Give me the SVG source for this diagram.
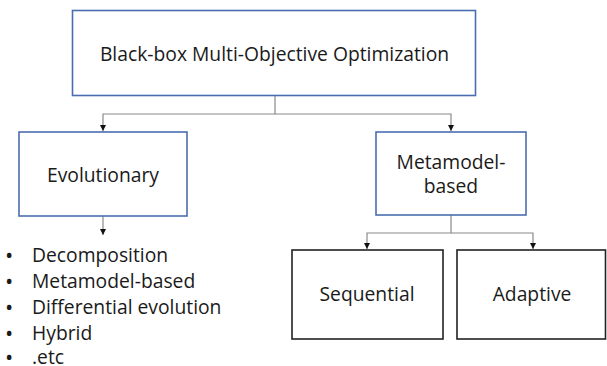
<svg xmlns="http://www.w3.org/2000/svg" width="607" height="366" viewBox="0 0 607 366">
  <style>
    .blue { fill: #ffffff; stroke: #4a6db0; stroke-width: 1.6; }
    .dark { fill: #ffffff; stroke: #222222; stroke-width: 1.6; }
    .lbl { font-family: "Open Sans", "Liberation Sans", Arial, sans-serif; font-size: 19.3px; fill: #1a1a1a; }
    .dot { font-size: 22px; }
    .mid { text-anchor: middle; }
    .conn { fill: none; stroke: #8a8a8a; stroke-width: 1.2; }
  </style>
  <defs>
    <marker id="arrow" viewBox="0 0 10 10" refX="10" refY="5" markerWidth="6" markerHeight="6" markerUnits="userSpaceOnUse" orient="auto">
      <path d="M0,0 L10,5 L0,10 z" fill="#111111"/>
    </marker>
  </defs>

  <rect width="607" height="366" fill="#ffffff"/>

  <g id="connectors">
    <path class="conn" d="M275,96 V114 H103 V131" marker-end="url(#arrow)"/>
    <path class="conn" d="M275,114 H451 V131" marker-end="url(#arrow)"/>
    <path class="conn" d="M103,216 V235" marker-end="url(#arrow)"/>
    <path class="conn" d="M451,215 V233 H367 V249" marker-end="url(#arrow)"/>
    <path class="conn" d="M451,233 H533 V249" marker-end="url(#arrow)"/>
  </g>

  <g id="root">
    <rect class="blue" x="72.5" y="10.5" width="403" height="85"/>
    <text class="lbl mid" x="274.5" y="61">Black-box Multi-Objective Optimization</text>
  </g>

  <g id="evolutionary">
    <rect class="blue" x="19" y="132" width="168" height="84"/>
    <text class="lbl mid" x="103" y="182">Evolutionary</text>
  </g>

  <!-- bulleted list of evolutionary method families -->
  <g id="evolutionary-list">
    <text class="lbl" x="5" y="263"><tspan class="dot">•</tspan><tspan x="32" y="262">Decomposition</tspan></text>
    <text class="lbl" x="5" y="289"><tspan class="dot">•</tspan><tspan x="32" y="288">Metamodel-based</tspan></text>
    <text class="lbl" x="5" y="315"><tspan class="dot">•</tspan><tspan x="32" y="314">Differential evolution</tspan></text>
    <text class="lbl" x="5" y="341"><tspan class="dot">•</tspan><tspan x="32" y="340">Hybrid</tspan></text>
    <text class="lbl" x="5" y="365"><tspan class="dot">•</tspan><tspan x="32" y="364">.etc</tspan></text>
  </g>

  <g id="metamodel">
    <rect class="blue" x="376" y="132" width="150" height="83"/>
    <text class="lbl mid" x="451" y="169">Metamodel-</text>
    <text class="lbl mid" x="451" y="193">based</text>
  </g>

  <g id="sequential">
    <rect class="dark" x="292" y="250" width="151" height="89"/>
    <text class="lbl mid" x="367" y="301">Sequential</text>
  </g>

  <g id="adaptive">
    <rect class="dark" x="457" y="250" width="148.5" height="89"/>
    <text class="lbl mid" x="532" y="301">Adaptive</text>
  </g>
</svg>
